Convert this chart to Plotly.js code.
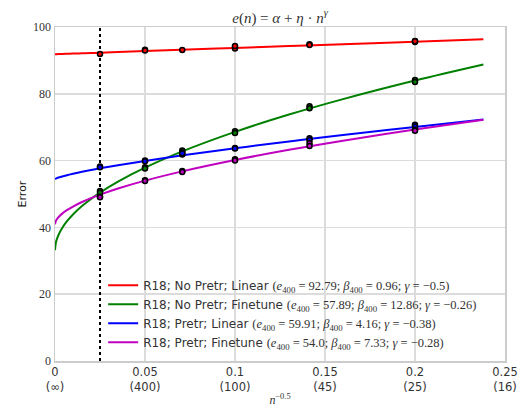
<!DOCTYPE html>
<html><head><meta charset="utf-8">
<script src="https://cdn.plot.ly/plotly-3.0.1.min.js"></script>
<style>html,body{margin:0;padding:0;background:#fff}#chart{width:521px;height:408px}</style>
</head><body><div id="chart"></div>
<script>
// fitted curve samples (x = n^-0.5)
const xFit = [0, 0.0005, 0.001, 0.002, 0.004, 0.007, 0.01, 0.015, 0.02, 0.025, 0.035, 0.05, 0.07, 0.1, 0.13, 0.16, 0.2, 0.238];
const redFit = [91.85, 91.86, 91.87, 91.89, 91.92, 91.98, 92.04, 92.13, 92.22, 92.32, 92.50, 92.79, 93.16, 93.72, 94.28, 94.84, 95.59, 96.30];
const greenFit = [33.18, 35.43, 36.41, 37.81, 39.82, 42.07, 43.88, 46.39, 48.52, 50.41, 53.70, 57.88, 62.61, 68.60, 73.78, 78.41, 83.98, 88.78];
const blueFit = [54.46, 54.62, 54.74, 54.93, 55.26, 55.68, 56.06, 56.64, 57.18, 57.68, 58.61, 59.91, 61.50, 63.69, 65.72, 67.65, 70.09, 72.30];
const magentaFit = [40.96, 41.95, 42.42, 43.11, 44.13, 45.30, 46.25, 47.60, 48.77, 49.80, 51.64, 54.00, 56.70, 60.18, 63.23, 65.97, 69.30, 72.20];

// measured points
const xPts = [0.025, 0.05, 0.05, 0.0707, 0.1, 0.1, 0.1, 0.1414, 0.1414, 0.2, 0.2, 0.2];
const redPts = [91.9, 93.2, 93.0, 93.1, 94.0, 93.6, 94.3, 94.8, 94.6, 95.8, 95.5, 95.7];
const xPts2 = [0.025, 0.025, 0.05, 0.05, 0.0707, 0.0707, 0.1, 0.1, 0.1414, 0.1414, 0.2, 0.2];
const greenPts = [50.9, 50.4, 58.0, 57.6, 63.0, 62.5, 68.8, 68.3, 76.3, 75.7, 84.1, 83.5];
const bluePts = [58.2, 58.0, 60.0, 59.8, 61.8, 62.2, 63.8, 63.6, 66.7, 66.2, 70.7, 70.2];
const magentaPts = [49.2, 49.0, 54.1, 53.9, 56.9, 56.6, 60.4, 60.0, 65.2, 64.4, 69.2, 68.9];

const xTickVals = [0, 0.05, 0.1, 0.15, 0.2, 0.25];
const xTickText = ['0<br>(∞)', '0.05<br>(400)', '0.1<br>(100)', '0.15<br>(45)', '0.2<br>(25)', '0.25<br>(16)'];
const vlineX = [0.025, 0.025];
const vlineY = [0, 100];

const seriesNames = [
  'R18; No Pretr; Linear',
  'R18; No Pretr; Finetune',
  'R18; Pretr; Linear',
  'R18; Pretr; Finetune'
];
const fitParams = [
  ['92.79', '0.96', '−0.5'],
  ['57.89', '12.86', '−0.26'],
  ['59.91', '4.16', '−0.38'],
  ['54.0', '7.33', '−0.28']
];
const colors = ['#ff0000', '#008000', '#0000ff', '#c000c0'];

const SERIF = '"Liberation Serif", "DejaVu Serif", serif';
function legendLabel(i) {
  const p = fitParams[i];
  return seriesNames[i] + ' <span style="font-family:' + "'Liberation Serif'" + ';font-size:12.5px">(<i>e</i><sub>400</sub> = ' + p[0] +
    '; <i>β</i><sub>400</sub> = ' + p[1] + '; <i>γ</i> = ' + p[2] + ')</span>';
}

const fits = [redFit, greenFit, blueFit, magentaFit];
const pts = [[xPts, redPts], [xPts2, greenPts], [xPts2, bluePts], [xPts2, magentaPts]];

const traces = [];
traces.push({x: vlineX, y: vlineY, mode: 'lines', line: {color: '#000', width: 2, dash: 'dot'}, showlegend: false, hoverinfo: 'skip'});
for (let i = 0; i < 4; i++) {
  traces.push({x: xFit, y: fits[i], mode: 'lines', line: {color: colors[i], width: 2, shape: 'spline'}, name: legendLabel(i)});
}
for (let i = 0; i < 4; i++) {
  traces.push({x: pts[i][0], y: pts[i][1], mode: 'markers', showlegend: false,
    marker: {color: colors[i], size: 5, line: {color: '#000', width: 1.5}}});
}

const layout = {
  width: 521, height: 408,
  margin: {l: 55, r: 16, t: 27, b: 47},
  paper_bgcolor: '#fff', plot_bgcolor: '#fff',
  title: {text: '<i>e</i>(<i>n</i>) = <i>α</i> + <i>η</i> · <i>n</i><sup><i>γ</i></sup>', font: {family: SERIF, size: 15, color: '#333'},
    x: 0.5, xref: 'paper', y: 0.97, yref: 'container'},
  xaxis: {range: [0, 0.25], tickvals: xTickVals, ticktext: xTickText, showgrid: true, gridcolor: '#dcdcdc', gridwidth: 1.5,
    zeroline: false, showline: true, linecolor: '#cccccc', linewidth: 1.5, mirror: true, ticks: '',
    tickfont: {family: '"DejaVu Sans", sans-serif', size: 11.5, color: '#333'},
    title: {text: '<i>n</i><sup>−0.5</sup>', font: {family: SERIF, size: 12, color: '#333'}, standoff: 2}},
  yaxis: {range: [0, 100], tickvals: [0, 20, 40, 60, 80, 100], showgrid: true, gridcolor: '#dcdcdc', gridwidth: 1.5,
    zeroline: false, showline: true, linecolor: '#cccccc', linewidth: 1.5, mirror: true, ticks: '',
    tickfont: {family: SERIF, size: 12, color: '#333'},
    title: {text: 'Error', font: {family: '"DejaVu Sans", sans-serif', size: 11, color: '#222'}, standoff: 4}},
  legend: {x: 0.107, y: 0.27, xanchor: 'left', yanchor: 'top', bgcolor: 'rgba(255,255,255,0)', borderwidth: 0,
    font: {family: '"DejaVu Sans", sans-serif', size: 12, color: '#333'}, tracegroupgap: 0},
  showlegend: true
};

Plotly.newPlot('chart', traces, layout, {displayModeBar: false, staticPlot: true});
</script>
</body></html>
